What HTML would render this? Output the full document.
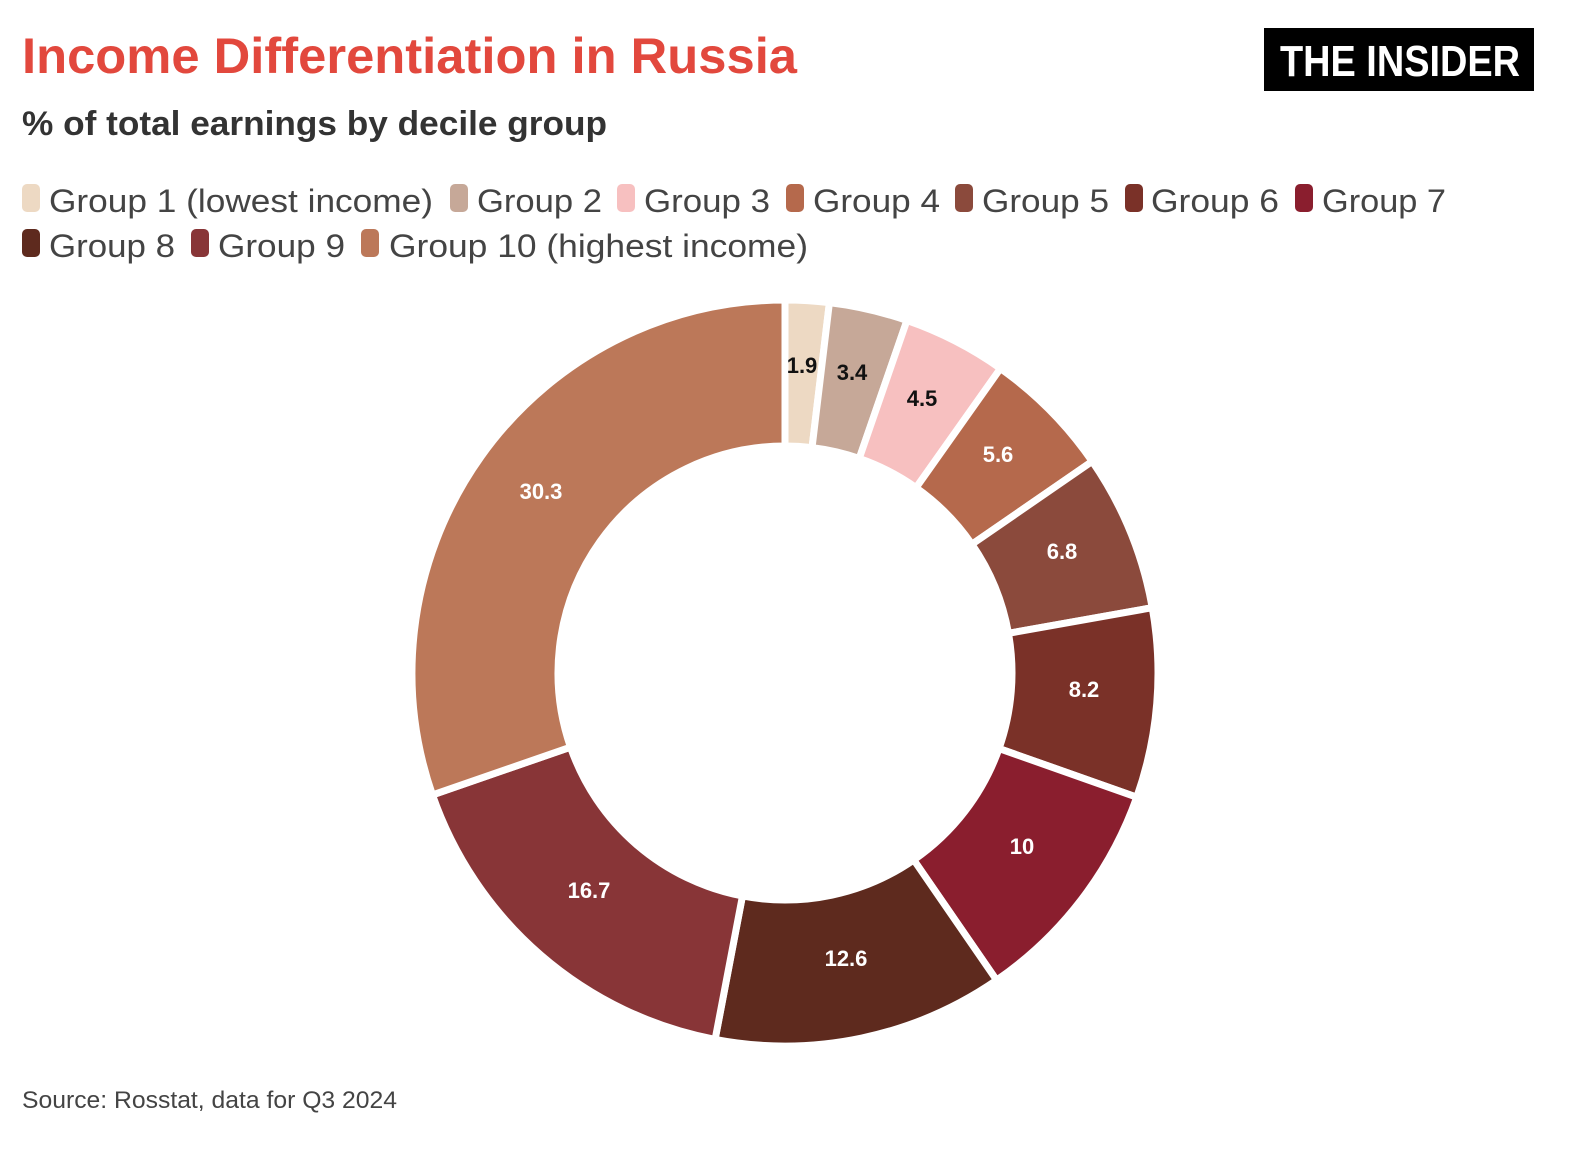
<!DOCTYPE html>
<html><head><meta charset="utf-8"><style>
html,body{margin:0;padding:0;background:#fff;overflow:hidden;width:1588px;height:1150px;}
svg{display:block;}
text{font-family:"Liberation Sans",sans-serif;}
</style></head><body>
<svg id="s" width="1588" height="1150" viewBox="0 0 1588 1150" xmlns="http://www.w3.org/2000/svg">
<rect width="1588" height="1150" fill="#fff"/>
<text x="22" y="73" font-size="50" font-weight="bold" fill="#E2483D" textLength="775" lengthAdjust="spacingAndGlyphs">Income Differentiation in Russia</text>
<text x="22" y="135" font-size="34" font-weight="bold" fill="#333" textLength="585" lengthAdjust="spacingAndGlyphs">% of total earnings by decile group</text>
<rect x="1264" y="28" width="270" height="63" fill="#000"/>
<text x="1280" y="76" font-size="44" font-weight="bold" fill="#fff" textLength="240" lengthAdjust="spacingAndGlyphs">THE INSIDER</text>
<g font-size="32" fill="#444">
<rect x="22" y="184" width="18" height="28" rx="5" fill="#EDD9C3"/><text x="49" y="212" textLength="384" lengthAdjust="spacingAndGlyphs">Group 1 (lowest income)</text>
<rect x="450" y="184" width="18" height="28" rx="5" fill="#C6A898"/><text x="477" y="212" textLength="125" lengthAdjust="spacingAndGlyphs">Group 2</text>
<rect x="617" y="184" width="18" height="28" rx="5" fill="#F7C0C0"/><text x="644" y="212" textLength="126" lengthAdjust="spacingAndGlyphs">Group 3</text>
<rect x="786" y="184" width="18" height="28" rx="5" fill="#B5694C"/><text x="813" y="212" textLength="127" lengthAdjust="spacingAndGlyphs">Group 4</text>
<rect x="955" y="184" width="18" height="28" rx="5" fill="#8B4A3C"/><text x="982" y="212" textLength="127" lengthAdjust="spacingAndGlyphs">Group 5</text>
<rect x="1125" y="184" width="18" height="28" rx="5" fill="#7A3128"/><text x="1151" y="212" textLength="128" lengthAdjust="spacingAndGlyphs">Group 6</text>
<rect x="1295" y="184" width="18" height="28" rx="5" fill="#8A1E2E"/><text x="1322" y="212" textLength="124" lengthAdjust="spacingAndGlyphs">Group 7</text>
<rect x="22" y="229" width="18" height="28" rx="5" fill="#5E2A1E"/><text x="49" y="257" textLength="126" lengthAdjust="spacingAndGlyphs">Group 8</text>
<rect x="191" y="229" width="18" height="28" rx="5" fill="#883537"/><text x="218" y="257" textLength="127" lengthAdjust="spacingAndGlyphs">Group 9</text>
<rect x="361" y="229" width="18" height="28" rx="5" fill="#BC7859"/><text x="389" y="257" textLength="419" lengthAdjust="spacingAndGlyphs">Group 10 (highest income)</text>
</g>
<g id="donut"></g>
<g font-size="22" font-weight="bold" text-anchor="middle">
<text x="802" y="373" fill="#111">1.9</text>
<text x="852" y="380" fill="#111">3.4</text>
<text x="922" y="406" fill="#111">4.5</text>
<text x="998" y="462" fill="#fff">5.6</text>
<text x="1062" y="559" fill="#fff">6.8</text>
<text x="1084" y="697" fill="#fff">8.2</text>
<text x="1022" y="854" fill="#fff">10</text>
<text x="846" y="966" fill="#fff">12.6</text>
<text x="589" y="898" fill="#fff">16.7</text>
<text x="541" y="499" fill="#fff">30.3</text>
</g>
<text x="22" y="1108" font-size="24" fill="#444" textLength="375" lengthAdjust="spacingAndGlyphs">Source: Rosstat, data for Q3 2024</text>
</svg>
<script>
(function(){
var v=[1.9,3.4,4.5,5.6,6.8,8.2,10,12.6,16.7,30.3];
var c=["#EDD9C3","#C6A898","#F7C0C0","#B5694C","#8B4A3C","#7A3128","#8A1E2E","#5E2A1E","#883537","#BC7859"];
var cx=785,cy=673,R=373,r=227,a=0,g=document.getElementById("donut"),h="";
function p(rad,ang){return [cx+rad*Math.sin(ang),cy-rad*Math.cos(ang)];}
for(var i=0;i<v.length;i++){
var a0=a/100*2*Math.PI;a+=v[i];var a1=a/100*2*Math.PI;var L=(a1-a0)>Math.PI?1:0;
var A=p(R,a0),B=p(R,a1),C=p(r,a1),D=p(r,a0);
h+='<path d="M'+A+' A'+R+','+R+' 0 '+L+' 1 '+B+' L'+C+' A'+r+','+r+' 0 '+L+' 0 '+D+' Z" fill="'+c[i]+'" stroke="#fff" stroke-width="7" stroke-linejoin="round"/>';
}
g.innerHTML=h;
})();
</script>
</body></html>
